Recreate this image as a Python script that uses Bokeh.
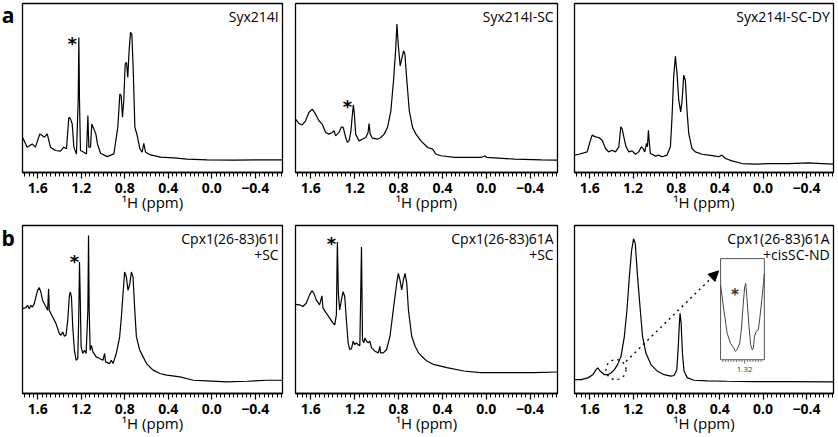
from bokeh.plotting import figure
from bokeh.models import Range1d, FixedTicker, Label, Arrow, NormalHead
from bokeh.layouts import column, row
from bokeh.embed import file_html
from bokeh.resources import INLINE
from bokeh.core.properties import value

# ---------------- data ----------------
X_START, X_END = 1.74, -0.65
MAJOR_TICKS = [1.6, 1.2, 0.8, 0.4, 0.0, -0.4]
TICK_LABELS = ["1.6", "1.2", "0.8", "0.4", "0.0", "\u22120.4"]
MINOR_TICKS = [1.72, 1.68, 1.64, 1.56, 1.52, 1.48, 1.44, 1.40, 1.36, 1.32, 1.28, 1.24, 1.16,
               1.12, 1.08, 1.04, 1.00, 0.96, 0.92, 0.88, 0.84, 0.76, 0.72, 0.68, 0.64, 0.60,
               0.56, 0.52, 0.48, 0.44, 0.36, 0.32, 0.28, 0.24, 0.20, 0.16, 0.12, 0.08, 0.04,
               -0.04, -0.08, -0.12, -0.16, -0.20, -0.24, -0.28, -0.32, -0.36, -0.44, -0.48,
               -0.52, -0.56, -0.60, -0.64]

syx_ppm = [1.740, 1.697, 1.651, 1.621, 1.581, 1.559, 1.538, 1.513, 1.483, 1.437, 1.391, 1.360,
           1.336, 1.314, 1.299, 1.283, 1.268, 1.244, 1.228, 1.222, 1.216, 1.207, 1.176, 1.152,
           1.139, 1.130, 1.115, 1.103, 1.084, 1.066, 1.051, 1.023, 0.962, 0.900, 0.864, 0.845,
           0.833, 0.821, 0.809, 0.796, 0.784, 0.772, 0.760, 0.747, 0.735, 0.723, 0.707, 0.686,
           0.661, 0.640, 0.625, 0.609, 0.563, 0.471, 0.349, 0.226, 0.043, -0.203, -0.448, -0.650]
syx_int = [0.209, 0.150, 0.169, 0.150, 0.228, 0.219, 0.209, 0.228, 0.150, 0.130, 0.126, 0.150,
           0.140, 0.327, 0.317, 0.287, 0.150, 0.110, 0.425, 0.799, 0.425, 0.130, 0.120, 0.110,
           0.337, 0.150, 0.150, 0.287, 0.258, 0.228, 0.169, 0.114, 0.094, 0.110, 0.268, 0.465,
           0.455, 0.327, 0.425, 0.642, 0.652, 0.563, 0.720, 0.829, 0.819, 0.622, 0.268, 0.219,
           0.140, 0.120, 0.173, 0.120, 0.104, 0.091, 0.087, 0.079, 0.075, 0.073, 0.075, 0.075]

syxsc_ppm = [1.740, 1.709, 1.679, 1.648, 1.618, 1.587, 1.557, 1.526, 1.496, 1.465, 1.435, 1.404,
             1.389, 1.374, 1.343, 1.322, 1.304, 1.282, 1.267, 1.252, 1.236, 1.221, 1.212, 1.203,
             1.191, 1.160, 1.130, 1.099, 1.078, 1.069, 1.059, 1.038, 0.992, 0.962, 0.931, 0.901,
             0.870, 0.846, 0.827, 0.815, 0.803, 0.785, 0.772, 0.754, 0.742, 0.724, 0.702, 0.672,
             0.641, 0.596, 0.534, 0.489, 0.458, 0.412, 0.290, 0.168, 0.046, 0.010, -0.003,
             -0.259, -0.503, -0.650]
syxsc_int = [0.316, 0.290, 0.282, 0.306, 0.355, 0.375, 0.345, 0.306, 0.286, 0.237, 0.227, 0.237,
             0.247, 0.217, 0.237, 0.270, 0.266, 0.207, 0.178, 0.187, 0.237, 0.345, 0.400, 0.345,
             0.227, 0.187, 0.197, 0.207, 0.237, 0.290, 0.227, 0.203, 0.197, 0.207, 0.227, 0.266,
             0.365, 0.542, 0.720, 0.878, 0.759, 0.631, 0.671, 0.720, 0.700, 0.542, 0.365, 0.266,
             0.227, 0.187, 0.148, 0.138, 0.108, 0.099, 0.089, 0.089, 0.089, 0.099, 0.089,
             0.079, 0.075, 0.073]

syxdy_ppm = [1.740, 1.700, 1.654, 1.623, 1.593, 1.577, 1.546, 1.516, 1.485, 1.454, 1.424, 1.393,
             1.362, 1.331, 1.313, 1.301, 1.285, 1.264, 1.239, 1.209, 1.178, 1.147, 1.123, 1.107,
             1.092, 1.076, 1.067, 1.058, 1.049, 1.040, 1.024, 0.993, 0.963, 0.932, 0.886, 0.855,
             0.840, 0.825, 0.809, 0.794, 0.778, 0.760, 0.747, 0.732, 0.717, 0.702, 0.686, 0.656,
             0.625, 0.563, 0.502, 0.441, 0.410, 0.379, 0.348, 0.287, 0.195, 0.072, -0.051,
             -0.235, -0.420, -0.543, -0.650]
syxdy_int = [0.103, 0.108, 0.116, 0.122, 0.191, 0.221, 0.211, 0.207, 0.191, 0.142, 0.122, 0.132,
             0.122, 0.152, 0.270, 0.260, 0.211, 0.152, 0.122, 0.128, 0.108, 0.122, 0.152, 0.142,
             0.122, 0.172, 0.152, 0.250, 0.172, 0.112, 0.108, 0.097, 0.103, 0.093, 0.103, 0.152,
             0.329, 0.566, 0.688, 0.586, 0.428, 0.359, 0.428, 0.576, 0.546, 0.369, 0.231, 0.142,
             0.122, 0.108, 0.103, 0.097, 0.093, 0.103, 0.083, 0.069, 0.053, 0.049, 0.053,
             0.053, 0.057, 0.053, 0.049]

cpxI_ppm = [1.740, 1.709, 1.694, 1.678, 1.663, 1.648, 1.632, 1.617, 1.601, 1.586, 1.571, 1.555,
            1.524, 1.509, 1.500, 1.494, 1.463, 1.432, 1.401, 1.386, 1.370, 1.355, 1.340, 1.324,
            1.309, 1.300, 1.290, 1.278, 1.263, 1.247, 1.232, 1.223, 1.216, 1.210, 1.201, 1.186,
            1.170, 1.155, 1.139, 1.133, 1.127, 1.118, 1.106, 1.093, 1.062, 1.032, 1.001, 0.985,
            0.976, 0.939, 0.924, 0.908, 0.878, 0.847, 0.831, 0.816, 0.801, 0.785, 0.770, 0.754,
            0.739, 0.724, 0.708, 0.693, 0.662, 0.631, 0.600, 0.570, 0.539, 0.477, 0.416, 0.292,
            0.169, 0.046, -0.139, -0.324, -0.508, -0.650]
cpxI_int = [0.505, 0.511, 0.525, 0.505, 0.525, 0.515, 0.535, 0.574, 0.614, 0.630, 0.604, 0.554,
            0.515, 0.495, 0.624, 0.495, 0.455, 0.416, 0.356, 0.347, 0.366, 0.341, 0.347, 0.436,
            0.584, 0.604, 0.574, 0.396, 0.257, 0.198, 0.208, 0.455, 0.782, 0.594, 0.277, 0.238,
            0.257, 0.238, 0.495, 0.941, 0.495, 0.257, 0.287, 0.248, 0.218, 0.208, 0.198, 0.238,
            0.188, 0.178, 0.198, 0.178, 0.238, 0.337, 0.455, 0.594, 0.723, 0.693, 0.614, 0.653,
            0.723, 0.693, 0.495, 0.337, 0.257, 0.218, 0.178, 0.158, 0.139, 0.119, 0.109, 0.099,
            0.079, 0.075, 0.069, 0.073, 0.079, 0.079]

cpxA_ppm = [1.740, 1.703, 1.673, 1.642, 1.612, 1.590, 1.572, 1.551, 1.520, 1.499, 1.489, 1.459,
            1.428, 1.398, 1.382, 1.367, 1.358, 1.349, 1.337, 1.321, 1.306, 1.291, 1.276, 1.260,
            1.245, 1.230, 1.214, 1.199, 1.184, 1.169, 1.153, 1.138, 1.129, 1.117, 1.107, 1.092,
            1.077, 1.062, 1.046, 1.016, 0.985, 0.970, 0.964, 0.939, 0.909, 0.878, 0.848, 0.817,
            0.802, 0.787, 0.771, 0.756, 0.741, 0.725, 0.710, 0.680, 0.649, 0.618, 0.588, 0.542,
            0.481, 0.359, 0.206, 0.053, -0.100, -0.252, -0.436, -0.650]
cpxA_int = [0.531, 0.528, 0.518, 0.537, 0.587, 0.612, 0.596, 0.557, 0.528, 0.581, 0.508, 0.478,
            0.449, 0.419, 0.409, 0.469, 0.902, 0.596, 0.498, 0.557, 0.606, 0.577, 0.439, 0.301,
            0.262, 0.266, 0.311, 0.291, 0.301, 0.291, 0.285, 0.872, 0.321, 0.301, 0.331, 0.311,
            0.301, 0.311, 0.272, 0.252, 0.242, 0.281, 0.242, 0.242, 0.262, 0.341, 0.498, 0.656,
            0.715, 0.675, 0.616, 0.675, 0.715, 0.656, 0.498, 0.341, 0.281, 0.242, 0.222, 0.193,
            0.173, 0.154, 0.134, 0.124, 0.124, 0.124, 0.124, 0.128]

cpxND_ppm = [1.740, 1.679, 1.617, 1.571, 1.541, 1.526, 1.501, 1.464, 1.434, 1.403, 1.372, 1.342,
             1.311, 1.280, 1.256, 1.234, 1.213, 1.195, 1.179, 1.158, 1.133, 1.112, 1.081, 1.035,
             0.974, 0.913, 0.851, 0.821, 0.796, 0.784, 0.772, 0.766, 0.756, 0.744, 0.729, 0.698,
             0.637, 0.514, 0.331, 0.085, -0.221, -0.650]
cpxND_int = [0.083, 0.083, 0.093, 0.112, 0.142, 0.152, 0.132, 0.112, 0.112, 0.122, 0.142, 0.172,
             0.221, 0.339, 0.497, 0.694, 0.852, 0.921, 0.892, 0.694, 0.497, 0.339, 0.241, 0.172,
             0.132, 0.112, 0.103, 0.107, 0.142, 0.260, 0.418, 0.477, 0.418, 0.241, 0.132, 0.093,
             0.079, 0.075, 0.073, 0.071, 0.071, 0.069]

inset_ppm = [1.364, 1.358, 1.352, 1.346, 1.340, 1.337, 1.334, 1.329, 1.326, 1.323, 1.320, 1.318,
             1.316, 1.312, 1.309, 1.306, 1.304, 1.302, 1.299, 1.295, 1.292, 1.288, 1.284]
inset_int = [0.738, 0.492, 0.262, 0.164, 0.115, 0.082, 0.098, 0.164, 0.295, 0.525, 0.721, 0.754,
             0.623, 0.328, 0.148, 0.098, 0.115, 0.230, 0.279, 0.295, 0.426, 0.623, 0.852]
INSET_X = (1.364, 1.284)
INSET_MINOR = [1.360, 1.355, 1.350, 1.345, 1.340, 1.335, 1.330, 1.325, 1.315, 1.310, 1.305,
               1.300, 1.295, 1.290]
INSET_MAJOR = [1.32]
INSET_LABEL = "1.32"

panels = [
    dict(ppm=syx_ppm, inten=syx_int, title=["Syx214I"], star=[(1.283, 0.765)]),
    dict(ppm=syxsc_ppm, inten=syxsc_int, title=["Syx214I-SC"], star=[(1.267, 0.39)]),
    dict(ppm=syxdy_ppm, inten=syxdy_int, title=["Syx214I-SC-DY"], star=[]),
    dict(ppm=cpxI_ppm, inten=cpxI_int, title=["Cpx1(26-83)61I", "+SC"], star=[(1.263, 0.787)]),
    dict(ppm=cpxA_ppm, inten=cpxA_int, title=["Cpx1(26-83)61A", "+SC"], star=[(1.413, 0.892)]),
    dict(ppm=cpxND_ppm, inten=cpxND_int, title=["Cpx1(26-83)61A", "+cisSC-ND"], star=[]),
]

FONT = "Open Sans"
LETTER_W = 20
FRAME_WS = [260, 262, 259]
col_borders = [(2, 6), (7, 8), (9, 3)]
FRAME_HS = [169, 168]
row_borders = [(3, 50), (3, 43)]


def make_fig(i, d):
    bl, br = col_borders[i % 3]
    bt, bb = row_borders[i // 3]
    fw, fh = FRAME_WS[i % 3], FRAME_HS[i // 3]
    p = figure(width=bl + fw + br, height=bt + fh + bb,
               x_range=Range1d(X_START, X_END), y_range=Range1d(0, 1),
               output_backend="svg", toolbar_location=None, y_axis_location=None,
               min_border_left=bl, min_border_right=br, min_border_top=bt, min_border_bottom=bb,
               tools="")
    p.grid.visible = False
    p.outline_line_color = "black"
    p.outline_line_width = 1.3
    p.background_fill_color = "white"
    p.border_fill_color = "white"
    ax = p.xaxis[0]
    ax.ticker = FixedTicker(ticks=MAJOR_TICKS, minor_ticks=MINOR_TICKS)
    ax.major_label_overrides = {t: s for t, s in zip(MAJOR_TICKS, TICK_LABELS)}
    ax.axis_line_color = "black"
    ax.axis_line_width = 1.3
    ax.major_tick_in = 0
    ax.major_tick_out = 6
    ax.minor_tick_in = 0
    ax.minor_tick_out = 4
    ax.major_tick_line_width = 1.2
    ax.minor_tick_line_width = 1
    ax.major_label_standoff = 4
    ax.major_label_text_font = FONT
    ax.major_label_text_font_style = "bold"
    ax.major_label_text_font_size = "14px"
    ax.major_label_text_color = "black"
    ax.axis_label = "\u00b9H (ppm)"
    ax.axis_label_standoff = -4
    ax.axis_label_text_font = FONT
    ax.axis_label_text_font_style = "normal"
    ax.axis_label_text_font_size = "15px"
    ax.axis_label_text_color = "black"

    p.line(d["ppm"], d["inten"], line_color="black", line_width=1.2)

    for k, t in enumerate(d["title"]):
        p.add_layout(Label(x=X_END + 0.035, y=0.925 - 0.1 * k, text=t, text_align="right",
                           text_baseline="middle", text_font=FONT, text_font_size="14px",
                           text_color="black"))
    if d["star"]:
        xs = [s[0] for s in d["star"]]
        ys = [s[1] for s in d["star"]]
        p.text(xs, ys, text=["*"] * len(xs), text_align="center", text_baseline="middle",
               text_font=value("DejaVu Sans"), text_font_style="bold", text_font_size="18px",
               text_color="black")
    return p


figs = [make_fig(i, d) for i, d in enumerate(panels)]


def letter_fig(letter, height, yfrac):
    f = figure(width=LETTER_W, height=height, x_range=Range1d(0, 1), y_range=Range1d(0, 1),
               output_backend="svg", toolbar_location=None, x_axis_location=None,
               y_axis_location=None, min_border=0, tools="")
    f.grid.visible = False
    f.outline_line_color = None
    f.text([0.38], [yfrac], text=[letter], text_align="center", text_baseline="middle",
           text_font=value(FONT), text_font_style="bold", text_font_size="21px",
           text_color="black")
    return f


ha = row_borders[0][0] + FRAME_HS[0] + row_borders[0][1]
hb = row_borders[1][0] + FRAME_HS[1] + row_borders[1][1]
la = letter_fig("a", ha, 1 - 15 / ha)
lb = letter_fig("b", hb, 1 - 16 / hb)

# inset on last panel
p6 = figs[5]
BOX = (0.564, 0.733, 0.201, 0.803)  # frame fractions of the inset box
span_x = (INSET_X[0] - INSET_X[1]) / (BOX[1] - BOX[0])
ix0 = INSET_X[0] + BOX[0] * span_x
span_y = 1.0 / (BOX[3] - BOX[2])
iy0 = -BOX[2] * span_y
p6.extra_x_ranges = {"ix": Range1d(ix0, ix0 - span_x)}
p6.extra_y_ranges = {"iy": Range1d(iy0, iy0 + span_y)}
p6.quad(left=[INSET_X[0]], right=[INSET_X[1]], bottom=[0], top=[1], x_range_name="ix",
        y_range_name="iy", fill_color="white", line_color="#555555", line_width=1)
p6.line(inset_ppm, inset_int, x_range_name="ix", y_range_name="iy", line_color="#444444",
        line_width=1)
p6.segment(x0=INSET_MINOR, y0=[0] * len(INSET_MINOR), x1=INSET_MINOR,
           y1=[-0.022] * len(INSET_MINOR), x_range_name="ix", y_range_name="iy",
           line_color="#555555", line_width=0.8)
p6.segment(x0=INSET_MAJOR, y0=[0], x1=INSET_MAJOR, y1=[-0.04], x_range_name="ix",
           y_range_name="iy", line_color="#555555", line_width=0.8)
p6.text(INSET_MAJOR, [-0.1], text=[INSET_LABEL], x_range_name="ix", y_range_name="iy",
        text_align="center", text_baseline="middle", text_font=value(FONT),
        text_font_size="8px", text_color="#444444")
p6.text([1.338], [0.64], text=["*"], x_range_name="ix", y_range_name="iy",
        text_align="center", text_baseline="middle", text_font=value("DejaVu Sans"),
        text_font_style="bold", text_font_size="15px", text_color="#333333")
# dotted circle and arrow
p6.scatter([1.357], [0.142], marker="circle", size=20, fill_alpha=0, line_color="black",
           line_dash="dotted", line_width=1.3)
p6.add_layout(Arrow(end=NormalHead(size=10, fill_color="black", line_color="black"),
                    x_start=1.265, y_start=0.191, x_end=0.41, y_end=0.73,
                    line_dash="dotted", line_width=1.4, line_color="black"))

layout = column(row(la, figs[0], figs[1], figs[2]), row(lb, figs[3], figs[4], figs[5]))
open("out.html", "w").write(file_html(layout, INLINE))
